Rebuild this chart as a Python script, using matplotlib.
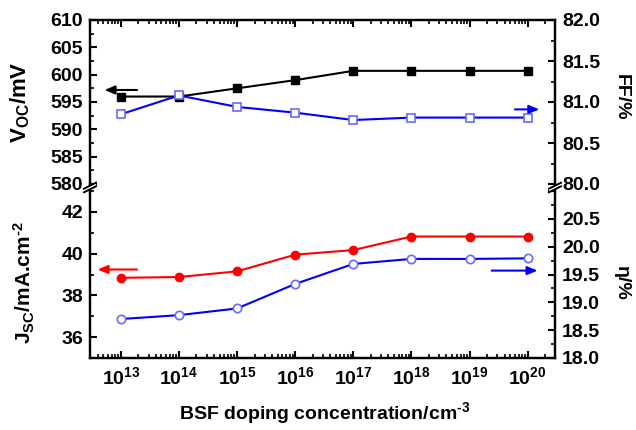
import numpy as np
import matplotlib
matplotlib.use("Agg")
import matplotlib.pyplot as plt
from matplotlib.lines import Line2D
from matplotlib.patches import Polygon
from matplotlib.ticker import LogLocator, MultipleLocator, FuncFormatter, NullFormatter

# ---------------- data ----------------
doping = [1e13, 1e14, 1e15, 1e16, 1e17, 1e18, 1e19, 1e20]
voc = [596.0, 596.0, 597.5, 599.0, 600.7, 600.7, 600.7, 600.7]
ff = [80.85, 81.08, 80.94, 80.87, 80.78, 80.81, 80.81, 80.81]
jsc = [38.84, 38.88, 39.15, 39.95, 40.17, 40.82, 40.82, 40.82]
eta = [18.70, 18.77, 18.89, 19.33, 19.69, 19.78, 19.78, 19.79]

plt.rcParams['font.family'] = ['Liberation Sans', 'DejaVu Sans']
plt.rcParams['font.weight'] = 'bold'
plt.rcParams['mathtext.fontset'] = 'custom'
plt.rcParams['mathtext.rm'] = 'Liberation Sans:bold'
plt.rcParams['mathtext.bf'] = 'Liberation Sans:bold'
plt.rcParams['mathtext.it'] = 'Liberation Sans:bold'
plt.rcParams['mathtext.default'] = 'rm'
plt.rcParams['axes.unicode_minus'] = False

W, H = 636, 430
fig = plt.figure(figsize=(W / 100, H / 100), dpi=100)

L, R = 90 / W, 555 / W
top1, bot1 = 1 - 20 / H, 1 - 184 / H
top2, bot2 = 1 - 191 / H, 1 - 358 / H

ax1 = fig.add_axes([L, bot1, R - L, top1 - bot1])
ax2 = fig.add_axes([L, bot2, R - L, top2 - bot2])
ax1r = ax1.twinx()
ax2r = ax2.twinx()

blue = '#0000ff'
blue_edge = '#6a6aff'

ax1.plot(doping, voc, color='black', lw=1.5, marker='s', ms=5.5, mfc='black', mec='black', zorder=3)
ax1r.plot(doping, ff, color=blue, lw=1.5, marker='s', ms=5.5, mfc='white', mec=blue_edge, mew=1.2, zorder=3)
ax2.plot(doping, jsc, color='#ff0000', lw=1.5, marker='o', ms=6, mfc='#ff0000', mec='#ff0000', zorder=3)
ax2r.plot(doping, eta, color=blue, lw=1.5, marker='o', ms=6, mfc='white', mec=blue_edge, mew=1.2, zorder=3)

xlim = (10 ** 12.47, 10 ** 20.47)
for a in (ax1, ax2):
    a.set_xscale('log')
    a.set_xlim(*xlim)

ax1.set_ylim(580, 610)
ax1r.set_ylim(80.0, 82.0)
ax2.set_ylim(35, 43)
ax2r.set_ylim(18.0, 21.0)

ax1.yaxis.set_major_locator(MultipleLocator(5))
ax1.yaxis.set_minor_locator(MultipleLocator(2.5))
ax1r.yaxis.set_major_locator(MultipleLocator(0.5))
ax1r.yaxis.set_minor_locator(MultipleLocator(0.25))
ax2.yaxis.set_major_locator(MultipleLocator(2))
ax2.yaxis.set_minor_locator(MultipleLocator(1))
ax2r.yaxis.set_major_locator(MultipleLocator(0.5))
ax2r.yaxis.set_minor_locator(MultipleLocator(0.25))

ax1r.yaxis.set_major_formatter(FuncFormatter(lambda v, p: f"{v:.1f}"))
ax2.yaxis.set_major_formatter(FuncFormatter(lambda v, p: "" if v > 42.5 or v < 35.5 else f"{v:.0f}"))
ax2r.yaxis.set_major_formatter(FuncFormatter(lambda v, p: "" if v > 20.6 else f"{v:.1f}"))

for a in (ax1, ax2):
    a.xaxis.set_major_locator(LogLocator(base=10, numticks=20))
    a.xaxis.set_minor_locator(LogLocator(base=10, subs=np.arange(2, 10), numticks=20))
    a.xaxis.set_minor_formatter(NullFormatter())


def xfmt(v, p):
    e = int(round(np.log10(v)))
    if v < xlim[0] or v > xlim[1]:
        return ""
    return r"$10^{%d}$" % e


ax2.xaxis.set_major_formatter(FuncFormatter(xfmt))

# spines
for a in (ax1, ax1r, ax2, ax2r):
    for s in a.spines.values():
        s.set_linewidth(1.6)
for a in (ax1, ax1r):
    a.spines['bottom'].set_visible(False)
for a in (ax2, ax2r):
    a.spines['top'].set_visible(False)

ax1.tick_params(axis='x', which='both', direction='in', top=True, bottom=False, labelbottom=False, labeltop=False)
ax2.tick_params(axis='x', which='both', direction='in', top=False, bottom=True)
for a in (ax1r, ax2r):
    a.tick_params(axis='x', which='both', top=False, bottom=False, labelbottom=False, labeltop=False)
for a in (ax1, ax2, ax1r, ax2r):
    a.tick_params(which='major', length=5, width=1.5, labelsize=14, pad=5)
    a.tick_params(which='minor', length=3, width=1.2)
    a.tick_params(axis='y', which='both', direction='in')
ax1.tick_params(axis='y', which='both', right=False)
ax2.tick_params(axis='y', which='both', right=False)
ax2.tick_params(axis='x', pad=6, labelsize=14)

# arrows
arrow_kw = dict(arrowstyle='-|>,head_length=0.6,head_width=0.25', lw=1.5, shrinkA=0, shrinkB=0)
ax1.annotate('', xy=(10 ** 12.72, 597.2), xytext=(10 ** 13.28, 597.2),
             arrowprops=dict(color='black', **arrow_kw))
ax1r.annotate('', xy=(10 ** 20.2, 80.91), xytext=(10 ** 19.78, 80.91),
              arrowprops=dict(color=blue, **arrow_kw))
ax2.annotate('', xy=(10 ** 12.6, 39.24), xytext=(10 ** 13.28, 39.24),
             arrowprops=dict(color='#ff0000', **arrow_kw))
ax2r.annotate('', xy=(10 ** 20.17, 19.57), xytext=(10 ** 19.38, 19.57),
              arrowprops=dict(color=blue, **arrow_kw))

# break marks on both vertical spines
for xp in (90, 555):
    yc = 187.5
    dx, dy = 6, 3
    fig.lines.append(Line2D([xp / W, xp / W], [1 - 183 / H, 1 - 192 / H],
                            transform=fig.transFigure, color='black', lw=1.6, zorder=9))
    fig.patches.append(Polygon([((xp - dx) / W, 1 - (yc - 1.8 + dy) / H), ((xp + dx) / W, 1 - (yc - 1.8 - dy) / H),
                                ((xp + dx) / W, 1 - (yc + 1.8 - dy) / H), ((xp - dx) / W, 1 - (yc + 1.8 + dy) / H)],
                               closed=True, transform=fig.transFigure, facecolor='white', edgecolor='none', zorder=10))
    for off in (-1.8, 1.8):
        fig.lines.append(Line2D([(xp - dx) / W, (xp + dx) / W],
                                [1 - (yc + off + dy) / H, 1 - (yc + off - dy) / H],
                                transform=fig.transFigure, color='black', lw=1.4, zorder=11))

# axis labels
fig.text(20 / W, 1 - 102 / H, r"V$_{\mathregular{OC}}$/mV", rotation=90, ha='center', va='center', fontsize=16, fontweight='bold')
fig.text(24 / W, 1 - 283 / H, r"J$_{\mathregular{SC}}$/mA.cm$^{\text{-2}}$", rotation=90, ha='center', va='center', fontsize=15, fontweight='bold')
fig.text(621 / W, 1 - 97 / H, "FF/%", rotation=270, ha='center', va='center', fontsize=14, fontweight='bold')
fig.text(621 / W, 1 - 283 / H, "η/%", rotation=270, ha='center', va='center', fontsize=14)
fig.text(0.5 * (167 + 482) / W, 1 - 413 / H, r"BSF doping concentration/cm$^{\text{-3}}$", ha='center', va='center', fontsize=14, fontweight='bold')

fig.savefig('out.png', dpi=100)
